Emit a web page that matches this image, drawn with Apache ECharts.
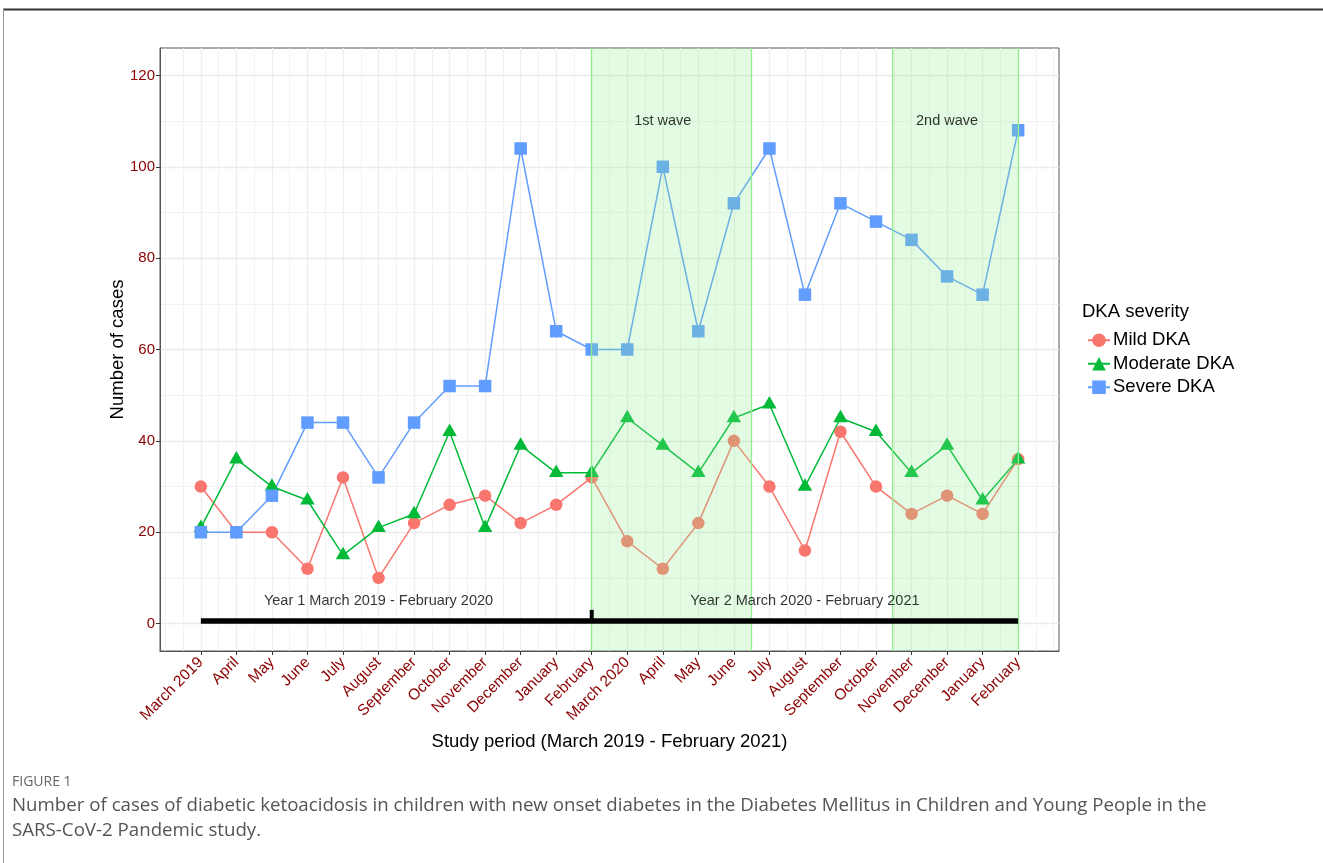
<!DOCTYPE html>
<html>
<head>
<meta charset="utf-8">
<script src="https://cdn.jsdelivr.net/npm/echarts@6.0.0/dist/echarts.min.js"></script>
<style>
html, body { margin: 0; padding: 0; background: #fff; }
#chart { width: 1323px; height: 863px; }
</style>
</head>
<body>
<div id="chart"></div>
<script>
// month labels along the study period
var months = ['March 2019', 'April', 'May', 'June', 'July', 'August', 'September', 'October',
    'November', 'December', 'January', 'February', 'March 2020', 'April', 'May', 'June', 'July',
    'August', 'September', 'October', 'November', 'December', 'January', 'February'];

// cases per month
var mild = [30, 20, 20, 12, 32, 10, 22, 26, 28, 22, 26, 32, 18, 12, 22, 40, 30, 16, 42, 30, 24, 28, 24, 36];
var moderate = [21, 36, 30, 27, 15, 21, 24, 42, 21, 39, 33, 33, 45, 39, 33, 45, 48, 30, 45, 42, 33, 39, 27, 36];
var severe = [20, 20, 28, 44, 44, 32, 44, 52, 52, 104, 64, 60, 60, 100, 64, 92, 104, 72, 92, 88, 84, 76, 72, 108];

// pandemic waves (month index)
var waveStart = [11, 19.47];
var waveEnd = [15.48, 23];
var waveLabels = ['1st wave', '2nd wave'];
var waveLabelX = [13, 21];
var waveLabelY = 110;

// study years
var yearLabels = ['Year 1 March 2019 - February 2020', 'Year 2 March 2020 - February 2021'];
var yearLabelX = [5, 17];
var yearLabelY = 5;
var timelineX = [0, 23];
var timelineY = 0.55;
var dividerX = 11;
var dividerTop = 3;

var yTicks = [0, 20, 40, 60, 80, 100, 120];
var yMinor = [10, 30, 50, 70, 90, 110];

var FONT = '"Liberation Sans", Arial, sans-serif';
var CAPTION_FONT = '"Open Sans", sans-serif';
var RED = '#F8766D', GREEN = '#00BA38', BLUE = '#619CFF';

var xMajor = [], xMinor = [];
for (var i = 0; i < months.length; i++) xMajor.push(i);
for (var k = -2; k <= 48; k++) xMinor.push(k / 2);

function pairs(arr) {
    return arr.map(function (v, i) { return [i, v]; });
}

var chart = echarts.init(document.getElementById('chart'));

var areas = [], edges = [], waveText = [], yearText = [];
for (var w = 0; w < waveStart.length; w++) {
    areas.push([{xAxis: waveStart[w]}, {xAxis: waveEnd[w]}]);
    edges.push({xAxis: waveStart[w]});
    edges.push({xAxis: waveEnd[w]});
    waveText.push([waveLabelX[w], waveLabelY, waveLabels[w]]);
}
for (var y = 0; y < yearLabels.length; y++) {
    yearText.push([yearLabelX[y], yearLabelY, yearLabels[y]]);
}

function lineSeries(name, data, color, symbol, size, offset) {
    return {
        name: name,
        type: 'line',
        data: pairs(data),
        symbol: symbol,
        symbolSize: size,
        symbolOffset: offset || [0, 0],
        showSymbol: true,
        lineStyle: {color: color, width: 1.5},
        itemStyle: {color: color, borderWidth: 0},
        z: 2
    };
}

chart.setOption({
    animation: false,
    grid: {
        left: 160, top: 48, width: 899, height: 603,
        show: true, borderColor: '#555', borderWidth: 1, backgroundColor: '#fff'
    },
    legend: {
        data: ['Mild DKA', 'Moderate DKA', 'Severe DKA'],
        orient: 'vertical',
        left: 1082,
        top: 325,
        itemWidth: 22,
        itemHeight: 17,
        itemGap: 3,
        selectedMode: false,
        textStyle: {fontFamily: FONT, fontSize: 18.5, color: '#000', lineHeight: 20.5, padding: [0, 0, 0, -2]}
    },
    xAxis: [{
        type: 'value',
        min: -1.15,
        max: 24.15,
        name: 'Study period (March 2019 - February 2021)',
        nameLocation: 'middle',
        nameGap: 81,
        nameMoveOverlap: false,
        nameTextStyle: {fontFamily: FONT, fontSize: 18.5, color: '#000'},
        axisLine: {show: true, onZero: false, lineStyle: {color: '#555'}},
        axisTick: {show: true, length: 4, customValues: xMajor, lineStyle: {color: '#333'}},
        axisLabel: {
            customValues: xMajor,
            rotate: 45,
            margin: 9,
            fontFamily: FONT,
            fontSize: 15.5,
            color: '#8B0000',
            formatter: function (v) { return months[Math.round(v)]; }
        },
        splitLine: {show: true, lineStyle: {color: '#EBEBEB', width: 1.3}}
    }, {
        type: 'value',
        min: -1.15,
        max: 24.15,
        axisLine: {show: false, onZero: false},
        axisTick: {show: false, customValues: xMinor},
        axisLabel: {show: false, customValues: xMinor},
        splitLine: {show: true, lineStyle: {color: '#EFEFEF', width: 0.8}}
    }],
    yAxis: [{
        type: 'value',
        min: -6,
        max: 126,
        name: 'Number of cases',
        nameLocation: 'middle',
        nameGap: 42,
        nameMoveOverlap: false,
        nameRotate: 90,
        nameTextStyle: {fontFamily: FONT, fontSize: 18.5, color: '#000', verticalAlign: 'middle'},
        axisLine: {show: true, onZero: false, lineStyle: {color: '#555'}},
        axisTick: {show: true, length: 4, customValues: yTicks, lineStyle: {color: '#333'}},
        axisLabel: {customValues: yTicks, margin: 5, fontFamily: FONT, fontSize: 15, color: '#8B0000'},
        splitLine: {show: true, lineStyle: {color: '#EBEBEB', width: 1.3}}
    }, {
        type: 'value',
        position: 'left',
        min: -6,
        max: 126,
        axisLine: {show: false, onZero: false},
        axisTick: {show: false, customValues: yMinor},
        axisLabel: {show: false, customValues: yMinor},
        splitLine: {show: true, lineStyle: {color: '#EFEFEF', width: 0.8}}
    }],
    series: [
        lineSeries('Mild DKA', mild, RED, 'circle', 12.5),
        lineSeries('Moderate DKA', moderate, GREEN, 'triangle', [14.5, 12.5], [0, -2]),
        lineSeries('Severe DKA', severe, BLUE, 'rect', 12.5),
        {
            name: 'waves',
            type: 'line',
            data: [],
            markArea: {
                silent: true,
                z: 5,
                itemStyle: {color: 'rgba(144,238,144,0.25)'},
                data: areas
            },
            markLine: {
                silent: true,
                z: 5,
                symbol: 'none',
                label: {show: false},
                lineStyle: {color: '#90EE90', type: 'solid', width: 1.3},
                data: edges
            },
            z: 5
        },
        {
            name: 'timeline',
            type: 'line',
            data: [[timelineX[0], timelineY], [timelineX[1], timelineY]],
            symbol: 'none',
            lineStyle: {color: '#000', width: 5.5, cap: 'butt'},
            z: 7
        },
        {
            name: 'divider',
            type: 'line',
            data: [[dividerX, timelineY], [dividerX, dividerTop]],
            symbol: 'none',
            lineStyle: {color: '#000', width: 4, cap: 'butt'},
            z: 7
        },
        {
            name: 'year text',
            type: 'scatter',
            data: yearText,
            symbolSize: 0,
            label: {
                show: true, position: 'inside', color: '#000',
                fontFamily: FONT, fontSize: 14.5,
                formatter: function (p) { return p.value[2]; }
            },
            z: 7
        },
        {
            name: 'wave text',
            type: 'scatter',
            data: waveText,
            symbolSize: 0,
            label: {
                show: true, position: 'inside', color: '#000',
                fontFamily: FONT, fontSize: 14.5,
                formatter: function (p) { return p.value[2]; }
            },
            z: 7
        }
    ],
    graphic: [
        {type: 'line', shape: {x1: 3, y1: 9.5, x2: 1323, y2: 9.5}, style: {stroke: '#333', lineWidth: 2}},
        {type: 'line', shape: {x1: 3.5, y1: 9, x2: 3.5, y2: 863}, style: {stroke: '#999', lineWidth: 1}},
        {type: 'text', x: 1082, y: 312, style: {text: 'DKA severity', fontFamily: FONT, fontSize: 18.5, fill: '#000', verticalAlign: 'middle'}},
        {type: 'text', x: 12, y: 782, style: {text: 'FIGURE 1', fontFamily: CAPTION_FONT, fontSize: 14, fill: '#666', verticalAlign: 'middle'}},
        {type: 'text', x: 12, y: 806, style: {text: 'Number of cases of diabetic ketoacidosis in children with new onset diabetes in the Diabetes Mellitus in Children and Young People in the', fontFamily: CAPTION_FONT, fontSize: 18.7, fill: '#555', verticalAlign: 'middle'}},
        {type: 'text', x: 12, y: 831, style: {text: 'SARS-CoV-2 Pandemic study.', fontFamily: CAPTION_FONT, fontSize: 18.7, fill: '#555', verticalAlign: 'middle'}}
    ]
});
</script>
</body>
</html>
